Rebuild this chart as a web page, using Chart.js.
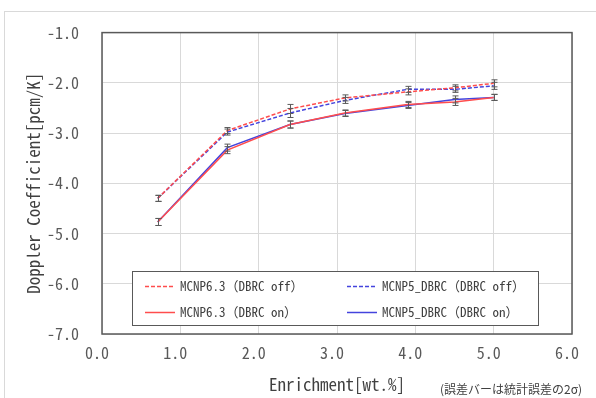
<!DOCTYPE html>
<html>
<head>
<meta charset="utf-8">
<script src="https://cdn.jsdelivr.net/npm/chart.js@4/dist/chart.umd.min.js"></script>
<style>
    html, body { margin: 0; padding: 0; background: #fff; }
    #wrap { width: 596px; height: 398px; }
</style>
</head>
<body>
<div id="wrap"><canvas id="dopplerChart" width="596" height="398"></canvas></div>
<script>
// enrichment [wt.%]
const enrichment = [0.711, 1.6, 2.4, 3.1, 3.9, 4.5, 5.0];

// doppler coefficient [pcm/K]
const mcnp63Off = [-4.30, -2.95, -2.52, -2.30, -2.18, -2.10, -2.01];
const mcnp5Off  = [-4.30, -2.98, -2.60, -2.35, -2.13, -2.13, -2.06];
const mcnp63On  = [-4.77, -3.34, -2.83, -2.60, -2.43, -2.38, -2.29];
const mcnp5On   = [-4.77, -3.29, -2.83, -2.61, -2.45, -2.33, -2.29];

// 2 sigma statistical error
const errOff = [0.06, 0.06, 0.09, 0.06, 0.06, 0.06, 0.07];
const errOn  = [0.07, 0.07, 0.07, 0.06, 0.06, 0.07, 0.06];

const seriesLabels = ['MCNP6.3（DBRC off）', 'MCNP5_DBRC（DBRC off）', 'MCNP6.3（DBRC on）', 'MCNP5_DBRC（DBRC on）'];
const xTicks = [0, 1, 2, 3, 4, 5, 6];
const yTicks = [-7, -6, -5, -4, -3, -2, -1];
const xTitle = 'Enrichment[wt.%]';
const yTitle = 'Doppler Coefficient[pcm/K]';
const noteText = '(誤差バーは統計誤差の2σ)';

const MONO = "'Noto Sans Mono CJK JP', 'DejaVu Sans Mono', monospace";
const RED = '#ff4d4d';
const BLUE = '#4444dd';

const toPoints = (ys) => ys.map((y, i) => ({ x: enrichment[i], y: y }));

const makeSet = (label, ys, err, color, dashed) => ({
    label: label,
    data: toPoints(ys),
    errors: err,
    showLine: true,
    borderColor: color,
    backgroundColor: color,
    borderWidth: 1.5,
    borderDash: dashed ? [4, 2] : [],
    pointRadius: 0,
    pointHoverRadius: 0,
    tension: 0
});

// outer chart border + plot frame
const framePlugin = {
    id: 'frame',
    beforeDraw(chart) {
        const ctx = chart.ctx;
        ctx.save();
        ctx.strokeStyle = '#d9d9d9';
        ctx.lineWidth = 1;
        ctx.strokeRect(4.5, 11.5, 800, 800);
        ctx.restore();
    },
    afterDatasetsDraw(chart) {
        const a = chart.chartArea;
        const ctx = chart.ctx;
        ctx.save();
        ctx.strokeStyle = '#595959';
        ctx.lineWidth = 1.5;
        ctx.strokeRect(a.left, a.top, a.right - a.left, a.bottom - a.top);
        ctx.restore();
    }
};

// error bars drawn through the scales
const errorBarPlugin = {
    id: 'errorBars',
    afterDatasetsDraw(chart) {
        const ctx = chart.ctx;
        const xs = chart.scales.x;
        const ys = chart.scales.y;
        ctx.save();
        ctx.strokeStyle = '#5a5a5a';
        ctx.lineWidth = 1;
        chart.data.datasets.forEach(ds => {
            ds.data.forEach((p, i) => {
                const e = ds.errors[i];
                const px = Math.round(xs.getPixelForValue(p.x)) + 0.5;
                const top = ys.getPixelForValue(p.y + e);
                const bot = ys.getPixelForValue(p.y - e);
                ctx.beginPath();
                ctx.moveTo(px, top);
                ctx.lineTo(px, bot);
                ctx.moveTo(px - 3, top);
                ctx.lineTo(px + 3, top);
                ctx.moveTo(px - 3, bot);
                ctx.lineTo(px + 3, bot);
                ctx.stroke();
            });
        });
        ctx.restore();
    }
};

// boxed legend inside the plot area, plus footnote
const legendBoxPlugin = {
    id: 'legendBox',
    afterDraw(chart) {
        const ctx = chart.ctx;
        const a = chart.chartArea;
        const bx = a.left + 30, by = a.bottom - 63, bw = 406, bh = 54;
        ctx.save();
        ctx.fillStyle = '#fff';
        ctx.fillRect(bx, by, bw, bh);
        ctx.strokeStyle = '#595959';
        ctx.lineWidth = 1;
        ctx.strokeRect(bx + 0.5, by + 0.5, bw, bh);

        const cols = [bx + 13, bx + 215];
        const rows = [by + 15, by + 41];
        ctx.font = '13px ' + MONO;
        ctx.textBaseline = 'middle';
        ctx.textAlign = 'left';
        chart.data.datasets.forEach((ds, i) => {
            const cx = cols[i % 2];
            const cy = rows[Math.floor(i / 2)];
            ctx.strokeStyle = ds.borderColor;
            ctx.lineWidth = 1.5;
            ctx.setLineDash(ds.borderDash);
            ctx.beginPath();
            ctx.moveTo(cx, cy + 0.5);
            ctx.lineTo(cx + 30, cy + 0.5);
            ctx.stroke();
            ctx.setLineDash([]);
            ctx.fillStyle = '#404040';
            ctx.fillText(ds.label, cx + 35, cy);
        });

        ctx.font = "12px 'Noto Sans CJK JP', sans-serif";
        ctx.textAlign = 'right';
        ctx.fillStyle = '#404040';
        ctx.fillText(noteText, 582, 389);
        ctx.restore();
    }
};

const ctx = document.getElementById('dopplerChart').getContext('2d');
const chart = new Chart(ctx, {
    type: 'scatter',
    data: {
        datasets: [
            makeSet(seriesLabels[0], mcnp63Off, errOff, RED, true),
            makeSet(seriesLabels[1], mcnp5Off, errOff, BLUE, true),
            makeSet(seriesLabels[2], mcnp63On, errOn, RED, false),
            makeSet(seriesLabels[3], mcnp5On, errOn, BLUE, false)
        ]
    },
    options: {
        responsive: false,
        animation: false,
        layout: {
            padding: { left: 0, top: 26, right: 24, bottom: 0 }
        },
        plugins: {
            legend: { display: false },
            tooltip: { enabled: false }
        },
        scales: {
            x: {
                type: 'linear',
                min: 0,
                max: 6,
                afterFit: (scale) => { scale.height = 64; },
                afterBuildTicks: (scale) => { scale.ticks = xTicks.map(v => ({ value: v })); },
                grid: { color: '#d9d9d9', drawTicks: false },
                border: { display: false },
                ticks: {
                    color: '#595959',
                    padding: 9,
                    labelOffset: -5,
                    font: { family: MONO, size: 16 },
                    callback: (v) => v.toFixed(1)
                },
                title: {
                    display: true,
                    text: xTitle,
                    color: '#404040',
                    font: { family: MONO, size: 17 },
                    padding: { top: 0, bottom: 3 }
                }
            },
            y: {
                type: 'linear',
                min: -7,
                max: -1,
                afterFit: (scale) => { scale.width = 102; },
                afterBuildTicks: (scale) => { scale.ticks = yTicks.map(v => ({ value: v })); },
                grid: { color: '#d9d9d9', drawTicks: false },
                border: { display: false },
                ticks: {
                    color: '#595959',
                    padding: 23,
                    font: { family: MONO, size: 16 },
                    callback: (v) => v.toFixed(1)
                },
                title: {
                    display: true,
                    text: yTitle,
                    color: '#404040',
                    font: { family: MONO, size: 17 },
                    padding: { top: 23, bottom: 0 }
                }
            }
        }
    },
    plugins: [framePlugin, errorBarPlugin, legendBoxPlugin]
});
</script>
</body>
</html>
